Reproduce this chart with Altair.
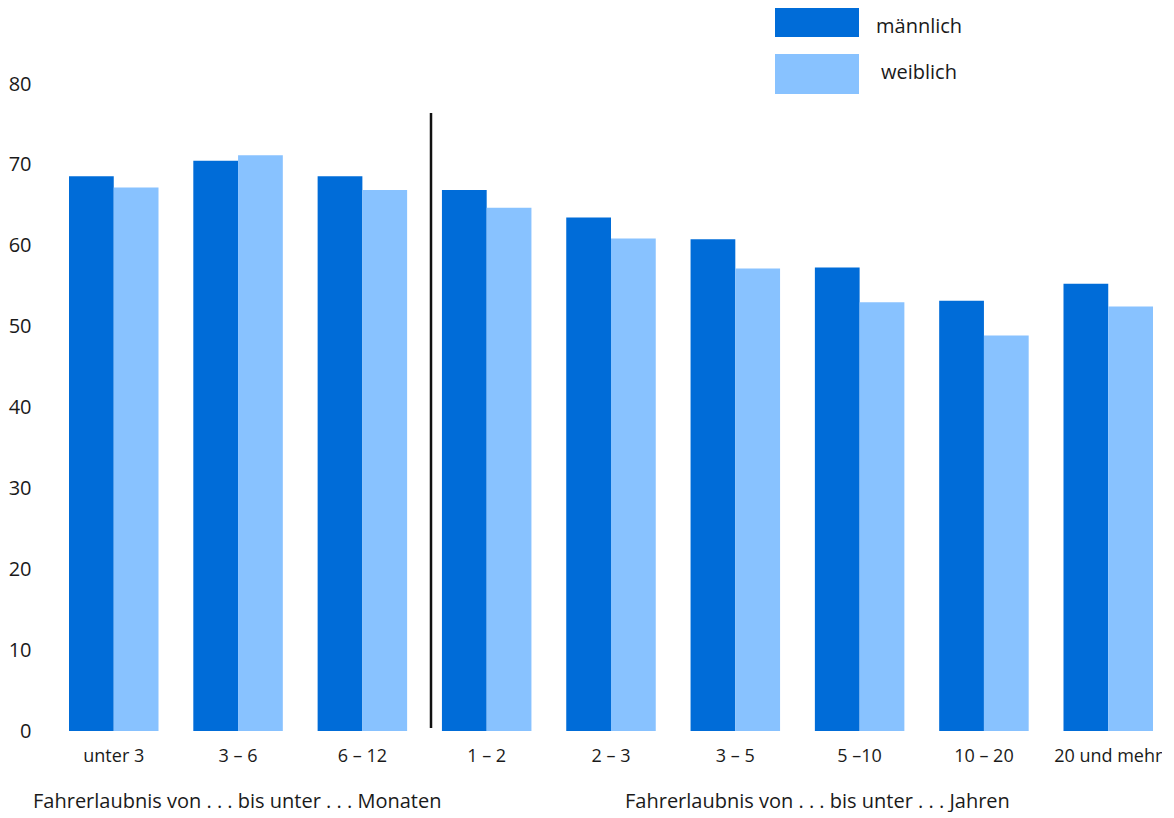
import altair as alt
import pandas as pd

categories = ["unter 3", "3 – 6", "6 – 12", "1 – 2", "2 – 3", "3 – 5", "5 –10", "10 – 20", "20 und mehr"]
maennlich = [68.6, 70.5, 68.6, 66.9, 63.5, 60.8, 57.3, 53.2, 55.3]
weiblich = [67.2, 71.2, 66.9, 64.7, 60.9, 57.2, 53.0, 48.9, 52.5]
series = ["männlich", "weiblich"]
colors = ["#006CD8", "#88C2FF"]
y_ticks = [0, 10, 20, 30, 40, 50, 60, 70, 80]
group_labels = ["Fahrerlaubnis von . . . bis unter . . . Monaten",
                "Fahrerlaubnis von . . . bis unter . . . Jahren"]

FONT = "Open Sans"
TXT = "#1a1a1a"

rows = []
for c, m, w in zip(categories, maennlich, weiblich):
    rows.append({"cat": c, "sex": series[0], "val": m})
    rows.append({"cat": c, "sex": series[1], "val": w})
df = pd.DataFrame(rows)

color_scale = alt.Scale(domain=series, range=colors)

bars = alt.Chart(df).mark_bar().encode(
    x=alt.X("cat:N", sort=categories,
            scale=alt.Scale(paddingInner=0.28, paddingOuter=0),
            axis=alt.Axis(title=None, labelAngle=0, domain=False, ticks=False,
                          labelPadding=16, labelFontSize=18, labelFont=FONT,
                          labelColor=TXT)),
    xOffset=alt.XOffset("sex:N", sort=series),
    y=alt.Y("val:Q", scale=alt.Scale(domain=[0, 80], nice=False),
            axis=alt.Axis(title=None, values=y_ticks, grid=False, domain=False,
                          ticks=False, labelPadding=38, labelFontSize=20,
                          labelFont=FONT, labelColor=TXT)),
    color=alt.Color("sex:N", scale=color_scale, legend=None),
)

sep = alt.Chart(pd.DataFrame({"a": [0]})).mark_rule(color="#111111", strokeWidth=2.5).encode(
    x=alt.value(362), y=alt.value(29), y2=alt.value(644)
)

leg_df = pd.DataFrame({
    "sex": series,
    "y1": [-76, -30],
    "y2": [-47, 10],
    "ty": [-57, -11],
    "tx": [807, 812],
})
leg_rect = alt.Chart(leg_df).mark_rect().encode(
    x=alt.value(706), x2=alt.value(790),
    y=alt.Y("y1:Q", scale=None), y2="y2:Q",
    color=alt.Color("sex:N", scale=color_scale, legend=None),
)
leg_text = alt.Chart(leg_df).mark_text(align="left", baseline="middle", fontSize=20,
                                       font=FONT, color=TXT).encode(
    x=alt.X("tx:Q", scale=None), y=alt.Y("ty:Q", scale=None), text="sex:N"
)

grp_df = pd.DataFrame({"label": group_labels, "gx": [-36, 556]})
grp_text = alt.Chart(grp_df).mark_text(align="left", baseline="middle", fontSize=20,
                                       font=FONT, color=TXT).encode(
    x=alt.X("gx:Q", scale=None), y=alt.value(718), text="label:N"
)

chart = alt.layer(bars, sep, leg_rect, leg_text, grp_text).properties(
    width=1084, height=647, padding=0
).configure_view(stroke=None)

chart.save("out.html", embed_options={"renderer": "svg", "actions": False})
